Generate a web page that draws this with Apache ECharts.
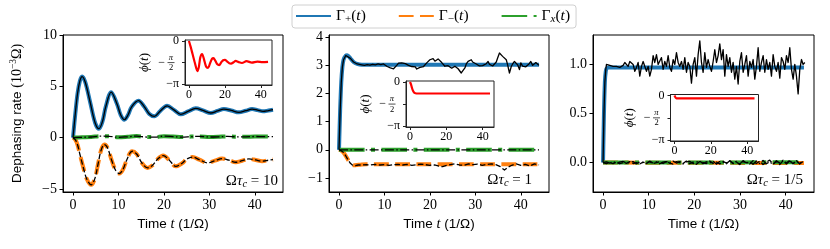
<!DOCTYPE html>
<html><head><meta charset="utf-8">
<script src="https://cdn.jsdelivr.net/npm/echarts@6/dist/echarts.min.js"></script>
<style>html,body{margin:0;padding:0;background:#fff}#c{width:830px;height:249px}</style>
</head><body><div id="c"></div>
<script>
// ---------------- DATA ----------------
const legendNames = ['Γ+(t)', 'Γ−(t)', 'Γx(t)'];
const annotations = ['10', '1', '1/5'];
const xTicksMain = [0, 10, 20, 30, 40];
const xTicksInset = [0, 20, 40];
const p1YTicks = [-5, 0, 5, 10];
const p2YTicks = [-1, 0, 1, 2, 3, 4];
const p3YTicks = [0, 0.5, 1.0];
const insetYTicks = [0, -Math.PI / 2, -Math.PI];

// Panel 1 (Ωτc = 10)
const p1GammaPlus = [[0,0],[0.5,2.3],[1,4.3],[1.5,5.5],[2,5.95],[2.7,5.4],[3.8,3.4],[4.9,1.4],[5.7,0.87],[6.5,1.6],[7.2,3.0],[8.4,4.43],[9.7,3.25],[10.5,2.2],[11.3,1.75],[12.1,2.2],[12.9,3.0],[14.4,3.6],[15.7,3.0],[16.8,2.3],[17.9,2.07],[19.2,2.6],[20.7,3.1],[22.2,2.7],[23.7,2.27],[25.3,2.55],[27,2.85],[28.6,2.65],[30.3,2.4],[31.8,2.6],[33.2,2.78],[34.8,2.65],[36.5,2.46],[38,2.62],[39.4,2.78],[40.6,2.68],[41.8,2.56],[43,2.64],[44,2.72]];
const p1GammaMinus = [[0,0],[0.5,-0.2],[1,-0.7],[1.5,-1.6],[2.2,-2.8],[3,-4.0],[4,-4.6],[4.8,-4.0],[5.5,-2.6],[6.2,-1.2],[6.9,-0.68],[7.6,-1.0],[8.5,-2.2],[9.4,-3.2],[10.2,-3.5],[11,-3.1],[11.8,-2.2],[13,-1.33],[14,-1.6],[15.2,-2.5],[16.4,-2.95],[17.5,-2.7],[18.6,-2.1],[19.85,-1.75],[21.2,-2.2],[22.6,-2.8],[24,-2.5],[25,-2.1],[26.3,-1.9],[27.8,-2.15],[29.6,-2.46],[31.2,-2.25],[32.8,-2.04],[34.3,-2.2],[35.8,-2.4],[37.2,-2.25],[38.7,-2.07],[40.2,-2.18],[41.6,-2.3],[43,-2.2],[44,-2.14]];
const p1GammaX = [[0,0],[2,0.03],[4,0.06],[6,0.14],[8,0.12],[10,0.03],[12,0.08],[14,0.15],[16,0.06],[18,0.05],[20,0.14],[22,0.1],[24,0.05],[26,0.1],[28,0.12],[30,0.06],[32,0.08],[34,0.12],[36,0.08],[38,0.08],[40,0.11],[42,0.1],[44,0.1]];
const p1Phi = [[0,0],[1,-0.45],[2,-0.95],[3,-1.45],[4,-1.95],[4.7,-2.2],[5.5,-1.9],[6.3,-1.2],[7.3,-0.95],[8.3,-1.3],[9.5,-1.85],[10.6,-1.95],[11.8,-1.6],[12.8,-1.3],[13.6,-1.25],[14.7,-1.45],[15.8,-1.7],[16.8,-1.75],[18,-1.55],[19,-1.4],[20,-1.38],[21.3,-1.5],[22.5,-1.63],[23.4,-1.65],[24.8,-1.55],[26,-1.45],[27.4,-1.52],[29.5,-1.6],[32,-1.47],[35,-1.57],[38,-1.5],[41,-1.54],[44,-1.52]];

// Panel 2 (Ωτc = 1)
const p2GammaPlus = [[0,0],[0.25,1.4],[0.5,2.4],[0.75,2.95],[1,3.2],[1.5,3.35],[1.8,3.36],[2.5,3.25],[3.2,3.12],[4,3.05],[5,3.02],[44,3.02]];
const p2SimPlus = [[0,0],[0.25,1.4],[0.5,2.4],[0.75,2.95],[1,3.2],[1.5,3.35],[1.8,3.36],[2.5,3.25],[3.2,3.12],[4,3.05],[5,3.02],[5.6,3.0],[6.2,3.03],[6.8,3.01],[7.4,3.04],[8,3.02],[8.6,3.05],[9.2,3.03],[9.8,3.05],[10.2,3.0],[10.6,2.96],[11.0,2.93],[11.3,2.91],[11.7,2.95],[12.0,2.88],[12.4,2.94],[12.7,3.0],[13.1,3.08],[13.5,3.14],[13.8,3.09],[14.2,3.12],[14.6,3.06],[14.9,3.09],[15.3,3.0],[15.7,2.93],[16.0,2.96],[16.4,2.91],[16.8,2.95],[17.1,2.87],[17.5,2.92],[17.8,2.93],[18.2,2.99],[18.6,2.96],[18.9,3.03],[19.3,3.09],[19.7,3.15],[20.0,3.2],[20.3,3.16],[20.7,3.24],[21.1,3.15],[21.5,3.17],[21.8,3.23],[22.2,3.2],[22.6,3.1],[22.9,3.05],[23.3,2.97],[23.7,2.91],[24.0,2.99],[24.4,2.96],[24.8,2.9],[25.1,2.93],[25.5,2.97],[25.9,2.91],[26.2,2.88],[26.6,2.85],[26.9,2.73],[27.3,2.8],[27.7,2.91],[28.0,3.05],[28.4,3.14],[28.7,3.1],[29.1,3.2],[29.4,3.12],[29.8,3.14],[30.2,3.05],[30.6,3.09],[30.9,2.98],[31.3,2.91],[31.6,2.99],[32.0,2.96],[32.4,3.06],[32.8,3.14],[33.1,3.04],[33.5,3.09],[33.8,2.98],[34.2,3.02],[34.6,3.12],[34.9,3.26],[35.3,3.44],[35.7,3.48],[36.0,3.32],[36.4,3.28],[36.8,3.2],[37.1,3.02],[37.5,2.73],[37.9,2.96],[38.2,3.05],[38.6,3.14],[39.0,3.2],[39.3,3.02],[39.7,2.85],[40.0,3.09],[40.4,2.97],[40.8,3.02],[41.1,2.95],[41.5,2.91],[41.8,3.05],[42.2,3.14],[42.6,3.0],[42.9,2.96],[43.3,3.1],[43.7,3.09],[44.0,3.0]];
const p2GammaMinus = [[0,0],[0.5,-0.03],[1,-0.1],[1.5,-0.22],[2,-0.36],[2.5,-0.47],[3,-0.54],[3.5,-0.55],[4,-0.54],[5,-0.52],[6,-0.51],[44,-0.51]];
const p2SimMinus = [[0,0],[0.5,-0.03],[1,-0.1],[1.5,-0.22],[2,-0.36],[2.5,-0.48],[3,-0.55],[3.6,-0.56],[4.2,-0.54],[5,-0.54],[6,-0.53],[7,-0.54],[8,-0.52],[9,-0.54],[10,-0.53],[11,-0.55],[12,-0.53],[13,-0.52],[14,-0.54],[15,-0.52],[16,-0.55],[17,-0.53],[18,-0.51],[19,-0.53],[20,-0.55],[21,-0.54],[22,-0.58],[22.8,-0.6],[23.5,-0.56],[24.5,-0.53],[25.5,-0.5],[26.5,-0.54],[27.5,-0.55],[28.5,-0.5],[29.5,-0.53],[30.5,-0.51],[31.5,-0.55],[32.5,-0.52],[33.5,-0.5],[34.5,-0.53],[35.5,-0.6],[36.4,-0.72],[37.2,-0.62],[38,-0.55],[39,-0.5],[40,-0.55],[41,-0.52],[42,-0.57],[43,-0.5],[44,-0.54]];
const p2GammaX = [[0,0],[44,0]];
const p2Phi = [[0,0],[0.5,-0.15],[1,-0.38],[1.5,-0.58],[2,-0.7],[2.5,-0.77],[3,-0.8],[4,-0.82],[44,-0.82]];

// Panel 3 (Ωτc = 1/5)
const p3GammaPlus = [[0,0],[0.2,0.5],[0.4,0.82],[0.6,0.93],[0.8,0.96],[1.2,0.97],[44,0.97]];
const p3SimRise = [[0,0],[0.2,0.5],[0.4,0.82],[0.6,0.95]];
const p3SimT0 = 0.75, p3SimDt = 0.365;
const p3SimPlusV = [1.00,0.98,0.99,0.97,0.98,0.96,0.98,1.00,0.97,0.98,0.99,1.02,1.00,0.98,1.03,1.02,1.00,0.93,0.97,1.02,0.88,0.98,1.03,1.02,0.93,0.98,0.88,0.95,1.09,1.02,1.10,1.00,0.98,1.07,0.95,1.03,0.98,1.09,0.97,0.93,1.05,1.00,1.12,1.02,0.98,1.03,0.95,1.07,0.92,1.02,0.98,0.81,1.00,1.07,0.88,1.10,1.24,1.02,0.92,1.12,0.97,1.05,0.98,0.93,1.03,1.15,1.02,1.09,1.21,1.05,1.15,0.88,1.10,0.98,1.07,0.92,1.02,0.85,0.98,0.80,1.03,1.12,0.92,1.00,1.09,0.88,1.03,0.97,1.05,0.85,0.98,1.17,0.93,1.02,1.09,0.92,1.05,0.95,1.02,0.88,1.10,0.98,0.93,1.02,0.86,1.07,1.03,0.95,1.09,1.02,1.17,0.95,0.85,1.00,0.88,0.70,0.95,1.05,1.00,1.02];
const p3GammaMinus = [[0,0],[44,-0.005]];
const p3GammaX = [[0,0],[44,0.003]];
const p3SmallT0 = 0, p3SmallDt = 0.73;
const p3SimMinusV = [0,-0.01,0.0,-0.01,0.005,-0.012,0.0,-0.008,0.01,-0.01,0.0,-0.015,0.005,-0.005,0.01,-0.012,0.0,0.008,-0.01,0.012,-0.005,-0.015,0.01,0.0,-0.01,0.015,-0.012,0.005,-0.018,0.01,0.0,-0.01,0.015,-0.008,0.005,-0.015,0.012,-0.005,0.018,-0.01,0.005,-0.02,0.01,0.0,-0.015,0.02,-0.01,0.015,-0.02,0.005,0.025,-0.015,0.01,-0.02,0.018,-0.005,0.022,-0.012,0.015,-0.01,0.02];
const p3SimXV = [0,0.008,-0.005,0.01,-0.008,0.004,0.012,-0.006,0.0,0.01,-0.012,0.006,0.0,-0.01,0.014,-0.004,0.008,-0.012,0.005,0.01,-0.008,0.015,-0.005,0.01,-0.014,0.006,0.012,-0.01,0.004,0.016,-0.012,0.008,-0.004,0.014,-0.016,0.01,0.004,-0.012,0.018,-0.008,0.012,-0.016,0.02,-0.006,0.01,-0.018,0.016,-0.01,0.022,-0.012,0.008,-0.02,0.018,-0.006,0.024,-0.014,0.016,-0.01,0.02,-0.015,0.012];
const p3Phi = [[0,0],[0.3,-0.08],[0.6,-0.15],[1,-0.19],[1.5,-0.2],[44,-0.2]];

// ---------------- STYLE / LAYOUT ----------------
const SERIF = 'Liberation Serif, DejaVu Serif, serif';
const SANS = 'Liberation Sans, DejaVu Sans, sans-serif';
const C_BLUE = '#1f77b4', C_ORANGE = '#ff7f0e', C_GREEN = '#2ca02c', C_RED = '#ff0000';
const LW = 4;
const DASH = [3.7 * LW, 1.6 * LW];
const DASHDOT = [6.4 * LW, 1.6 * LW, 1 * LW, 1.6 * LW];
const BW = 1.3;
const BDASH = [5.5, 2.4];
const BDASHDOT = [9, 2.4, 1.5, 2.4];

const mainGrids = [
  {left: 63, top: 35, width: 220, height: 157},
  {left: 329, top: 35, width: 220, height: 157},
  {left: 593, top: 35, width: 221, height: 157}
];
const insetGrids = [
  {left: 185, top: 40, width: 87, height: 45},
  {left: 406, top: 81, width: 88, height: 46},
  {left: 670.5, top: 94.5, width: 88, height: 46.5}
];
const yRanges = [[-5.3, 10], [-1.5, 4.08], [-0.3, 1.3]];
const yTicks = [p1YTicks, p2YTicks, p3YTicks];

const chart = echarts.init(document.getElementById('c'), null, {renderer: 'canvas'});

const fmtNum = (v) => String(v).replace('-', '−');
const grid = [], xAxis = [], yAxis = [];
mainGrids.forEach((g, i) => {
  grid.push(Object.assign({show: true, borderColor: '#000', borderWidth: 1, backgroundColor: 'transparent', containLabel: false}, g));
  xAxis.push({
    type: 'value', gridIndex: i, min: -2.2, max: 46.2,
    axisLine: {show: true, onZero: false, lineStyle: {color: '#000', width: 1}},
    axisTick: {show: true, length: 3.5, lineStyle: {color: '#000', width: 1}, customValues: xTicksMain},
    axisLabel: {customValues: xTicksMain, color: '#000', fontFamily: SERIF, fontSize: 14, margin: 6},
    splitLine: {show: false},
    name: '{s|Time }{i|t}{s| (1/Ω)}', nameLocation: 'middle', nameGap: 24,
    nameTextStyle: {rich: {
      s: {fontFamily: SANS, fontSize: 13.5, color: '#000'},
      i: {fontFamily: SERIF, fontStyle: 'italic', fontSize: 14.5, color: '#000'}
    }}
  });
  const yax = {
    type: 'value', gridIndex: i, min: yRanges[i][0], max: yRanges[i][1],
    axisLine: {show: true, onZero: false, lineStyle: {color: '#000', width: 1}},
    axisTick: {show: true, length: 3.5, lineStyle: {color: '#000', width: 1}, customValues: yTicks[i]},
    axisLabel: {customValues: yTicks[i], color: '#000', fontFamily: SERIF, fontSize: 14, margin: 6,
      formatter: i === 2 ? (v) => v.toFixed(1) : (v) => fmtNum(v)},
    splitLine: {show: false}
  };
  if (i === 0) {
    yax.name = '{s|Dephasing rate }{m|(10}{sup|−3}{m|Ω)}';
    yax.nameLocation = 'middle';
    yax.nameGap = 37;
    yax.nameTextStyle = {rich: {
      s: {fontFamily: SANS, fontSize: 13.5, color: '#000', lineHeight: 18, verticalAlign: 'middle'},
      m: {fontFamily: SERIF, fontSize: 14, color: '#000', lineHeight: 18, verticalAlign: 'middle'},
      sup: {fontFamily: SERIF, fontSize: 9.5, color: '#000', lineHeight: 10, verticalAlign: 'top'}
    }};
  }
  yAxis.push(yax);
});
insetGrids.forEach((g, i) => {
  const gi = 3 + i;
  grid.push(Object.assign({show: true, borderColor: '#222', borderWidth: 1, backgroundColor: '#fff', zlevel: 1, z: 0}, g));
  xAxis.push({
    type: 'value', gridIndex: gi, min: -2.2, max: 46.2, zlevel: 1,
    axisLine: {show: true, onZero: false, lineStyle: {color: '#222', width: 1}},
    axisTick: {show: true, length: 3, lineStyle: {color: '#222', width: 1}, customValues: xTicksInset},
    axisLabel: {customValues: xTicksInset, color: '#000', fontFamily: SERIF, fontSize: 12, margin: 4},
    splitLine: {show: false}
  });
  yAxis.push({
    type: 'value', gridIndex: gi, min: -3.2, max: 0.07, zlevel: 1,
    axisLine: {show: true, onZero: false, lineStyle: {color: '#222', width: 1}},
    axisTick: {show: true, length: 3, lineStyle: {color: '#222', width: 1}, customValues: insetYTicks},
    axisLabel: {customValues: insetYTicks, color: '#000', fontFamily: SERIF, fontSize: 12, margin: 6,
      formatter: (v) => (Math.abs(v) < 1e-9 ? '0' : (v < -3 ? '−π' : ''))},
    splitLine: {show: false},
    name: '{i|ϕ}{g|(}{i|t}{g|)}', nameLocation: 'middle', nameGap: 34,
    nameTextStyle: {rich: {
      i: {fontFamily: SERIF, fontStyle: 'italic', fontSize: 13, color: '#000'},
      g: {fontFamily: SERIF, fontSize: 13, color: '#000'}
    }}
  });
});

function ln(idx, data, color, width, type, name, smooth, z) {
  return {
    type: 'line', name: name, xAxisIndex: idx, yAxisIndex: idx, data: data,
    showSymbol: false, symbol: 'none', smooth: smooth || false, animation: false,
    zlevel: idx >= 3 ? 1 : 0, z: z || 2,
    lineStyle: {color: color, width: width, type: type, cap: 'butt', join: 'round'},
    itemStyle: {color: color}, emphasis: {disabled: true}, silent: true
  };
}
const grid3 = (vals, t0, dt) => vals.map((v, k) => [t0 + k * dt, v]);
const sm = 0.35;
const series = [
  // panel 1
  ln(0, p1GammaPlus, C_BLUE, LW, 'solid', legendNames[0], sm),
  ln(0, p1GammaMinus, C_ORANGE, LW, DASH, legendNames[1], sm),
  ln(0, p1GammaX, C_GREEN, LW, DASHDOT, legendNames[2], sm),
  ln(0, p1GammaPlus, '#000', BW, 'solid', 'sim+', sm, 3),
  ln(0, p1GammaMinus, '#000', BW, BDASH, 'sim−', sm, 3),
  ln(0, p1GammaX, '#000', BW, BDASHDOT, 'simx', sm, 3),
  // panel 2
  ln(1, p2GammaPlus, C_BLUE, LW, 'solid', legendNames[0], 0.3),
  ln(1, p2GammaMinus, C_ORANGE, LW, DASH, legendNames[1], 0.3),
  ln(1, p2GammaX, C_GREEN, LW, DASHDOT, legendNames[2]),
  ln(1, p2SimPlus, '#000', BW, 'solid', 'sim+', false, 3),
  ln(1, p2SimMinus, '#000', BW, BDASH, 'sim−', false, 3),
  ln(1, p2GammaX, '#000', BW, BDASHDOT, 'simx', false, 3),
  // panel 3
  ln(2, p3GammaPlus, C_BLUE, LW, 'solid', legendNames[0], 0.3),
  ln(2, p3GammaMinus, C_ORANGE, LW, DASH, legendNames[1]),
  ln(2, p3GammaX, C_GREEN, LW, DASHDOT, legendNames[2]),
  ln(2, p3SimRise.concat(grid3(p3SimPlusV, p3SimT0, p3SimDt)), '#000', BW, 'solid', 'sim+', false, 3),
  ln(2, grid3(p3SimMinusV, p3SmallT0, p3SmallDt), '#000', BW, BDASH, 'sim−', false, 3),
  ln(2, grid3(p3SimXV, p3SmallT0, p3SmallDt), '#000', BW, BDASHDOT, 'simx', false, 3),
  // insets
  ln(3, p1Phi, C_RED, 2.2, 'solid', 'phi1', 0.3),
  ln(4, p2Phi, C_RED, 2.2, 'solid', 'phi2', 0.3),
  ln(5, p3Phi, C_RED, 2.2, 'solid', 'phi3', 0.3)
];

const legendRich = {
  g: {fontFamily: SERIF, fontSize: 15.5, color: '#000', lineHeight: 18, verticalAlign: 'middle'},
  i: {fontFamily: SERIF, fontStyle: 'italic', fontSize: 15.5, color: '#000', lineHeight: 18, verticalAlign: 'middle'},
  s: {fontFamily: SERIF, fontSize: 11, color: '#000', lineHeight: 10, verticalAlign: 'bottom'},
  si: {fontFamily: SERIF, fontStyle: 'italic', fontSize: 11, color: '#000', lineHeight: 10, verticalAlign: 'bottom'}
};
const legendFmt = {};
legendFmt[legendNames[0]] = '{g|Γ}{s|+}{g|(}{i|t}{g|)}';
legendFmt[legendNames[1]] = '{g|Γ}{s|−}{g|(}{i|t}{g|)}';
legendFmt[legendNames[2]] = '{g|Γ}{si|x}{g|(}{i|t}{g|)}';

const annRich = {
  g: {fontFamily: SERIF, fontSize: 15, fill: '#000', lineHeight: 18, verticalAlign: 'middle'},
  i: {fontFamily: SERIF, fontStyle: 'italic', fontSize: 15, fill: '#000', lineHeight: 18, verticalAlign: 'middle'},
  s: {fontFamily: SERIF, fontStyle: 'italic', fontSize: 10.5, fill: '#000', lineHeight: 10, verticalAlign: 'bottom'}
};
const annPos = [[278, 181], [532, 180], [803, 180]];
const graphics = annotations.map((a, i) => ({
  type: 'text', x: annPos[i][0], y: annPos[i][1], silent: true,
  style: {text: '{g|Ω}{i|τ}{s|c}{g| = ' + a + '}', rich: annRich, align: 'right', verticalAlign: 'middle'}
}));

chart.setOption({
  backgroundColor: '#fff',
  animation: false,
  grid: grid, xAxis: xAxis, yAxis: yAxis, series: series,
  legend: {
    data: legendNames, left: 292, top: 5, padding: [3, 6, 3, 3], itemGap: 32,
    itemWidth: 35, itemHeight: 12, borderColor: '#d0d0d0', borderWidth: 1, borderRadius: 3,
    backgroundColor: '#fff', selectedMode: false,
    formatter: (n) => legendFmt[n], textStyle: {rich: legendRich, padding: [0, 0, 0, 0]},
    itemStyle: {opacity: 0}
  },
  graphic: graphics
});

// stacked fraction label −π/2 on the inset y-axes, positioned through the axes' own scales
const extra = [];
[3, 4, 5].forEach((gi) => {
  const p = chart.convertToPixel({xAxisIndex: gi, yAxisIndex: gi}, [-2.2, -Math.PI / 2]);
  const x = p[0], y = p[1];
  extra.push({type: 'text', zlevel: 1, x: x - 14, y: y - 0.5, silent: true,
    style: {text: 'π', font: 'italic 8.5px ' + SERIF, fill: '#000', align: 'center', verticalAlign: 'bottom'}});
  extra.push({type: 'line', zlevel: 1, silent: true, shape: {x1: x - 17.5, y1: y, x2: x - 10.5, y2: y},
    style: {stroke: '#000', lineWidth: 0.7}});
  extra.push({type: 'text', zlevel: 1, x: x - 14, y: y + 0.8, silent: true,
    style: {text: '2', font: '8.5px ' + SERIF, fill: '#000', align: 'center', verticalAlign: 'top'}});
  extra.push({type: 'text', zlevel: 1, x: x - 20, y: y, silent: true,
    style: {text: '−', font: '12px ' + SERIF, fill: '#000', align: 'right', verticalAlign: 'middle'}});
});
chart.setOption({graphic: graphics.concat(extra)});
</script>
</body></html>
